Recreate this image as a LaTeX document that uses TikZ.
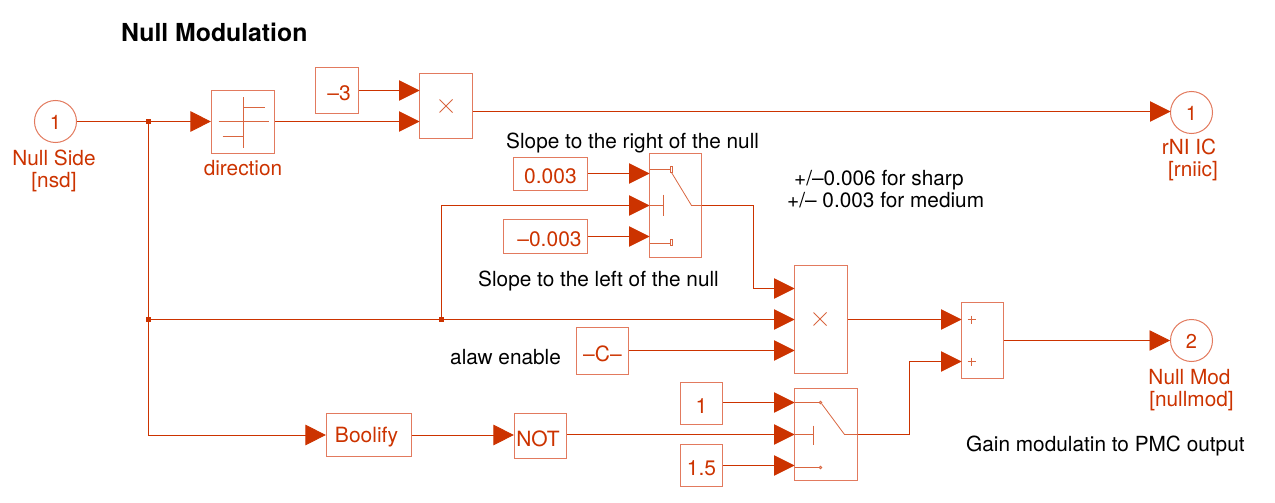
\documentclass[tikz,border=0pt]{standalone}
\usepackage{fontspec}
\setmainfont{TeX Gyre Heros}
\usetikzlibrary{arrows.meta}
\definecolor{sl}{HTML}{CC3300}
\definecolor{edge}{HTML}{E27A5E}
\newcommand{\bt}[1]{\raisebox{-2.5pt}[\height][\depth]{#1}}
\newcommand{\pt}[1]{\raisebox{-1pt}[\height][\depth]{#1}}
\tikzset{
  x=1pt,y=-1pt,
  blk/.style={draw=edge,line width=1.2pt,inner sep=0pt,text=sl,font=\fontsize{21}{24}\selectfont},
  port/.style={circle,draw=edge,line width=1pt,minimum size=42pt,inner sep=0pt,text=sl,font=\fontsize{20}{22}\selectfont},
  wire/.style={draw=sl,line width=0.9pt,-{Triangle[length=20.5pt,width=20.5pt,fill=sl]}},
  plain/.style={draw=sl,line width=0.9pt},
  icon/.style={draw=sl!75!white,line width=0.8pt},
  jdot/.style={fill=sl,inner sep=0pt,minimum size=5pt,rectangle},
  rlabel/.style={text=sl,font=\fontsize{20.8}{22}\selectfont,align=center,inner sep=0pt},
  note/.style={text=black,font=\fontsize{20.8}{22}\selectfont,inner sep=0pt,anchor=west},
}
\begin{document}
\begin{tikzpicture}
\useasboundingbox (-0.5,-0.5) rectangle (1274.5,502.5);
% blocks
\node[port] (in1) at (55,121) {\pt{1}};
\node[blk,minimum width=63pt,minimum height=63pt] (dir) at (242.5,121.5) {};
\node[blk,minimum width=43pt,minimum height=46pt] (km3) at (336.5,90) {\bt{\hspace*{4pt}–3}};
\node[blk,minimum width=53pt,minimum height=65pt] (m1) at (445.5,105.5) {};
\node[port] (out1) at (1191,112) {\pt{1}};
\node[blk,minimum width=74pt,minimum height=33pt] (kp) at (550,173.5) {\bt{0.003}};
\node[blk,minimum width=84pt,minimum height=34pt] (kn) at (545,236) {\bt{\hspace*{8pt}–0.003}};
\node[blk,minimum width=52pt,minimum height=104pt] (sw1) at (675,205) {};
\node[blk,minimum width=53pt,minimum height=108pt] (m2) at (820.5,319) {};
\node[blk,minimum width=52pt,minimum height=47pt] (kc) at (602,350.5) {\bt{–C–}};
\node[blk,minimum width=42pt,minimum height=76pt] (sum) at (982,340) {};
\node[port] (out2) at (1191,340) {\pt{2}};
\node[blk,minimum width=85pt,minimum height=43pt] (bool) at (368.5,434.5) {\bt{\hspace*{-5pt}Boolify}};
\node[blk,minimum width=52pt,minimum height=45pt] (not) at (540,435.5) {\bt{\hspace*{-5pt}NOT}};
\node[blk,minimum width=42pt,minimum height=42pt] (k1) at (701,403) {\bt{1}};
\node[blk,minimum width=42pt,minimum height=42pt] (k15) at (701,465) {\bt{1.5}};
\node[blk,minimum width=63pt,minimum height=92pt] (sw2) at (825.5,434) {};
% named ports and junctions
\coordinate (m1a) at (419,90);
\coordinate (m1b) at (419,121);
\coordinate (m1o) at (472,111);
\coordinate (o1i) at (1170,111);
\coordinate (s1a) at (649,173);
\coordinate (s1b) at (649,205);
\coordinate (s1c) at (649,236);
\coordinate (s1o) at (701,205);
\coordinate (m2a) at (794,288);
\coordinate (m2b) at (794,319);
\coordinate (m2c) at (794,350);
\coordinate (sa) at (961,319);
\coordinate (sb) at (961,361);
\coordinate (s2a) at (794,402);
\coordinate (s2b) at (794,434);
\coordinate (s2c) at (794,465);
\coordinate (s2o) at (857,434);
\node[jdot] (j1) at (148,121) {};
\node[jdot] (j2) at (148,319) {};
\node[jdot] (j3) at (441,319) {};
% connectors
\draw[wire] (in1.east) -- (in1.east -| dir.west);
\draw[wire] (dir.east |- m1b) -- (m1b);
\draw[wire] (km3.east |- m1a) -- (m1a);
\draw[wire] (m1o) -- (o1i);
\draw[wire] (kp.east |- s1a) -- (s1a);
\draw[wire] (kn.east) -- (s1c);
\draw[wire] (j3.center) |- (s1b);
\draw[wire] (s1o) -| (753,288) -- (m2a);
\draw[wire] (j2.center) -- (m2b);
\draw[plain] (j1.center) -- (j2.center);
\draw[wire] (j2.center) |- (bool.west);
\draw[wire] (bool.east) -- (bool.east -| not.west);
\draw[wire] (not.east |- s2b) -- (s2b);
\draw[wire] (kc.east |- m2c) -- (m2c);
\draw[wire] (k1.east |- s2a) -- (s2a);
\draw[wire] (k15.east) -- (s2c);
\draw[wire] (m2.east) -- (sa);
\draw[wire] (s2o) -| (909,361) -- (sb);
\draw[wire] (sum.east) -- (out2.west);
% block icons
\draw[icon] (243,97) -- (243,147) (218,121) -- (268,121) (243,107) -- (264,107) (222,136) -- (243,136);
\draw[icon] (439,99) -- (452,112) (452,99) -- (439,112);
\draw[icon] (813,312) -- (826,325) (826,312) -- (813,325);
\draw[icon] (649,169) -- (669,169) (649,243) -- (669,243) (649,205) -- (663,205) (663,194) -- (663,215);
\draw[icon] (670,166) rectangle (672,172) (670,239) rectangle (672,245);
\draw[icon] (671,172) -- (691,205) -- (701,205);
\draw[icon] (794,402) -- (819,402) (794,467) -- (819,467) (794,434) -- (813,434) (813,425) -- (813,444);
\draw[icon] (820,402) circle (1.3pt) (820,467) circle (1.3pt);
\draw[icon] (821,403) -- (844,434) -- (857,434);
\draw[icon] (967,319) -- (975,319) (971,315) -- (971,323) (967,361) -- (975,361) (971,357) -- (971,365);
% labels
\node[font=\bfseries\fontsize{24.8}{28}\selectfont,inner sep=0pt,anchor=west] (title) at (120.5,32) {Null Modulation};
\node[rlabel] (lin) at (53.5,170) {Null Side\\{}[nsd]};
\node[rlabel] (ldir) at (242.5,168) {direction};
\node[rlabel] (lo1) at (1188.5,159) {rNI IC\\\hspace*{8pt}[rniic]};
\node[rlabel] (lo2) at (1189,390) {Null Mod\\\hspace*{4pt}[nullmod]};
\node[note] (n1) at (505.5,142) {Slope to the right of the null};
\node[note] (n2) at (477.5,280) {Slope to the left of the null};
\node[note] (n3) at (793.5,180) {+/–0.006 for sharp};
\node[note] (n4) at (786.5,200) {+/– 0.003 for medium};
\node[note] (n5) at (449.5,357) {alaw enable};
\node[note] (n6) at (965.5,445) {Gain modulatin to PMC output};
\end{tikzpicture}
\end{document}
